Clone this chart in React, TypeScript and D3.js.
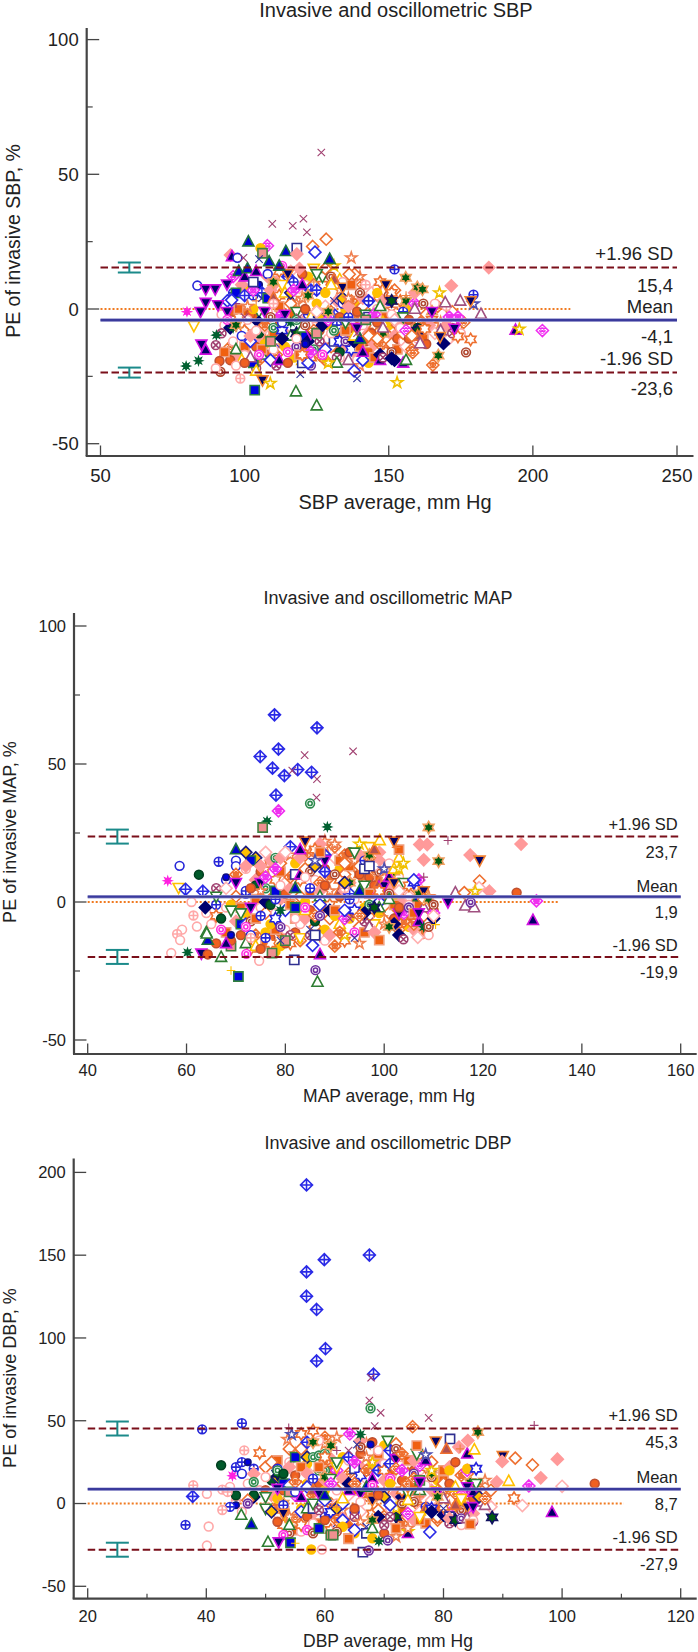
import React from 'react';
import * as d3 from 'd3';

// ---- marker style table (index = subject style) ----
const kinds = ['o','op','dp','d','s','s','^','v','v','^','^','v','^','v','h','h','h','h','*','*','*','d','dg','dg','d','d','o','op','o','o','os','o','r','r','r','r','ox','x','x','+','+','+','s','s','d','d','^','^','am','ag'];
const fills = ['#fff','#fff','#fff','#fff','#0000e0','#fff','#0000d0','#000066','#000066','#000066','#fff','#fff','#fff','#fff','#fff','#fff','#005a10','#005a10','#fff','#fff','#fff','#fff','#fff','#fff','#ff9a9a','#fff','#fff','#fff','#f06020','#005a2a','#0000e0','#ffc000','#fff','#fff','#fff','#fff','#fff','none','none','none','none','none','#f06010','#f09090','#000070','#ffc000','#b05050','#fff','#ff20e0','#006030'];
const strokes = ['#2626d8','#2626d8','#2a2ae6','#2a2ae6','#2f7f3f','#303090','#1f6f3f','#d010e0','#f08030','#d010e0','#2e7d32','#2e7d32','#ffc000','#ffc000','#ee7030','#2222dd','#f0a060','#101060','#f0c000','#f08050','#5050b0','#ee7030','#ee7030','#f030f0','#ff9a9a','#ffb0b0','#ffa8a8','#ffa8a8','#c05030','#004020','#101080','#ffc000','#2e8b4e','#ff30e0','#b04830','#7030a0','#a04070','#3030a0','#a04070','#a04070','#f08040','#ffc000','#f0a080','#408040','#000070','#1a1a80','#f07030','#a05080','#ff20e0','#006030'];

// ---- SBP panel ----
const sbpTicksX = [50, 100, 150, 200, 250];
const sbpTicksY = [-50, 0, 50, 100];
const sbpMinorY = [-25, 25, 75];
const sbpLimits = [15.4, -4.1, -23.6];
const sbpExtra = [
[26,92,-2],[22,95,-14],[28,96,-1],[42,100,-14],[24,97,-17],[26,100,-17],[31,101,7],[14,100,-8],[21,102,-6],[28,104,-14],[24,106,-11],[42,103,-3],[31,107,-13],[22,105,-19],[19,108,-9],[28,108,-17],[26,108,-1],[24,108,12],[42,110,-9],[22,111,-17],[28,112,-6],[21,113,-1],[24,114,-9],[31,117,-18],[14,112,5],[26,117,-15],[42,117,-2],[25,119,8],[22,119,-11],[28,120,-15],[24,121,-4],[31,122,12],[19,118,2],[42,122,-17],[14,123,-18],[26,121,9],[21,126,0],[28,126,-8],[24,127,-13],[42,128,-1],[22,126,-17],[31,129,-6],[14,127,9],[26,129,-11],[25,128,1],[21,130,-1],[28,131,-14],[42,132,-10],[24,134,-14],[19,133,7],[22,134,-5],[31,135,-1],[26,133,-18],[14,136,-12],[21,136,-3],[28,137,-7],[42,134,-4],[24,138,-16],[22,139,-3],[31,138,2],[26,139,-19],[14,141,-4],[21,141,1],[28,142,-12],[24,143,-9],[19,140,-21],[42,143,-16],[25,144,6],[22,141,9],[31,143,-20],[14,145,-6],[28,144,-9],[26,146,0],[24,145,-13],[21,147,4],[22,149,-9],[42,149,-3],[28,150,-13],[14,149,-16],[31,150,-6],[26,149,-12],[19,151,0],[24,152,-10],[21,151,-13],[28,153,-11],[22,153,-6],[42,153,-15],[26,155,-12],[14,154,3],[25,156,-14],[21,155,-9],[28,157,-11],[24,154,-3],[31,156,0],[19,157,-6],[22,161,-5],[26,160,-11],[42,162,-11],[21,163,-2],[28,163,-13],[14,165,-4],[24,164,-6],[25,166,-9],[22,167,1],[19,168,-5],[26,166,2],[21,172,-1],[28,172,-7],[14,174,-7],[22,176,-5],[25,171,-11],[26,175,-9],[12,120,-19],[18,131,16],[13,124,15],[11,127,12],[12,133,11],[21,128,15],[26,134,10],[28,120,13],[14,112,14],[33,113,16],[24,111,10],[25,116,14],[21,124,9],[19,140,12],[26,146,8],[14,147,10],[24,141,4],[42,148,-8],[21,152,7],[25,158,3]
];
const sbpPoints = [
[26,93,-6],[36,92,-9],[3,94,3],[44,95,-7],[1,96,6],[23,96,12],[24,99,9],[7,94,-1],[26,96,-12],[10,97,-15],[33,94,-4],[14,98,-3],[42,98,0],[0,99,-10],[49,96,-7],[16,97,-6],[12,99,-19],[28,95,-19],[26,97,-21],[42,93,-16],[6,98,14],[39,97,2],[4,97,6],[2,100,5],[9,100,12],
[42,101,-1],[28,102,-2],[3,102,-12],[36,104,-22],[4,103,-20],[1,103,5],[11,105,-1],[29,105,-9],[40,104,3],[30,105,9],[2,106,6],[23,103,7],[26,101,-4],[10,106,-17],[42,106,-15],[24,102,-10],[33,105,-17],[31,103,0],[7,107,-1],[5,103,10],[25,107,-7],[6,101,15],[9,104,14],[47,102,-18],[19,101,1],[37,106,4],[12,104,-23],[0,108,13],[4,108,4],[44,105,-5],[22,107,-6],[28,100,-20],[26,104,-8],[38,100,-3],
[3,112,-12],[32,110,-7],[2,115,12],[42,112,1],[24,109,7],[23,112,-3],[46,110,4],[26,110,-15],[12,114,6],[3,109,-19],[36,111,-21],[9,112,-19],[7,114,-2],[43,109,-12],[15,113,-8],[30,116,3],[31,114,-14],[28,115,-20],[21,116,2],[11,118,-1],[40,112,-13],[13,113,9],[10,116,-10],[8,115,13],[0,113,-5],[34,109,-3],[1,117,10],[49,116,-5],[16,110,10],[17,118,-9],[44,113,-11],[33,115,-16],[27,110,2],[45,116,6],[6,112,16],[23,117,7],[35,118,-14],
[19,120,4],[1,122,-2],[4,121,-10],[44,122,-12],[32,124,-15],[5,120,-20],[35,123,-21],[3,122,-20],[23,123,-16],[24,119,15],[28,121,0],[12,123,-3],[9,120,9],[2,123,7],[2,125,7],[42,119,-17],[31,125,2],[30,121,-13],[32,118,-4],[10,120,-7],[7,123,-9],[27,125,-5],[11,125,13],[22,124,-8],[36,126,-12],[38,119,-3],[26,118,-11],[16,122,5],[45,126,-3],[40,124,10],[34,121,-6],[25,125,-1],[43,125,-9],[14,120,-17],
[31,128,6],[21,130,-14],[3,128,-15],[5,131,-12],[15,133,-12],[44,127,-6],[34,130,12],[46,131,11],[12,130,9],[22,128,-19],[29,133,-16],[2,131,-2],[36,132,-18],[23,129,-4],[24,132,3],[28,133,-3],[26,130,-9],[16,129,-1],[1,132,-6],[42,135,-8],[0,134,2],[47,136,-19],[10,132,-20],[11,135,-5],[45,134,4],[37,131,3],[18,129,-20],[33,127,-17],[32,131,-8],[8,134,8],[35,135,-12],
[15,137,-15],[3,138,-23],[3,141,-19],[1,136,-3],[42,140,-14],[44,138,-12],[22,137,3],[24,136,1],[28,139,-1],[26,141,-6],[12,138,-10],[19,136,4],[34,140,6],[42,137,9],[27,142,9],[9,141,-16],[6,140,-11],[7,139,-7],[21,143,-10],[11,142,-2],[38,139,-9],[5,143,-3],[2,143,3],[1,143,3],[31,146,6],[23,145,-2],[43,142,-4],
[42,145,-18],[16,148,-9],[22,147,-13],[1,150,3],[44,147,-17],[8,149,9],[12,148,-5],[26,151,-2],[28,146,-5],[24,148,3],[9,147,-19],[34,150,5],[36,148,-18],[47,148,-7],[21,146,-11],[1,155,-1],[25,152,-4],[14,151,6],[17,151,3],[10,147,1],[11,155,-3],
[44,152,-19],[34,151,-16],[9,155,-20],[10,156,-19],[26,154,-7],[16,156,3],[23,159,2],[24,159,6],[22,158,-15],[14,162,-7],[29,160,-7],[44,160,-8],[23,156,-8],[17,160,-8],[46,160,-10],[28,157,-4],[34,162,2],[47,159,0],[40,156,5],[21,158,-10],[16,165,-1],[7,165,-1],[23,171,-3],[24,170,-6],[23,174,-3],[47,168,-8],[27,170,1],[36,172,-9],
[38,126.6,58.1],[38,109.6,31.6],[38,116.7,30.9],[38,120.4,33.5],[38,121.6,28.5],[21,128.3,25.9],[6,101.3,25],[23,107.9,23.5],[31,105.5,22.6],[6,114.3,21.4],[5,118.1,22.6],[21,123.6,23.2],[3,124.4,21.1],[43,106.2,20.7],[24,95.1,20],[9,95.6,19.5],[0,97.5,19],[38,99.6,19],[37,105,18.5],[19,137,19],[6,129.5,18.5],[6,108.5,17.6],[24,118.1,20.4],[24,184.7,15.4],[1,152,14.7],[16,155.9,11.6],[21,138.1,12.9],[21,136.3,12.9],[16,159.9,8],[16,161.7,7.3],[24,171.7,8.6],[18,167.6,6],[1,179.4,5.3],[20,179.4,1.9],[8,178.4,3],[47,174.8,3],[47,169.6,2.4],[47,182,-1.9],[48,80,-1],[13,82.4,-6.2],[0,83.6,8.7],[7,86.5,7.4],[7,89.8,7.4],[7,93.9,9.2],[7,86.5,2.4],[7,84.7,-1],[7,90.8,1.5],[3,95.5,3.3],[9,194,-7.8],[18,195.3,-7.5],[23,203.3,-8],[49,79.7,-21.2],[49,84,-19.2],[49,90.2,-9.7],[7,85,-13.1],[9,86.5,-15.2],[36,90,-13.4],[28,91.3,-19.3],[34,91.6,-23.3],[26,90,-22],[27,98.5,-25.8],[4,103.5,-30.1],[8,106.2,-26.4],[18,108.9,-27.6],[10,117.8,-30.7],[10,125,-35.9],[37,119.3,-24.2],[37,139,-25.8],[18,152.9,-27.3],[22,165.3,-20.8],[22,158.3,-16.2],[34,176.8,-16.1],[16,167.2,-17.3],[14,178.4,-11.3],[14,174,-10.2],[14,162.5,-7.4],[44,169,-12.8],[44,151,-18.3],[8,167.8,-10.3],[7,172.8,-7.2],[47,160.9,-12.8]
];

// ---- MAP panel ----
const mapTicksX = [40, 60, 80, 100, 120, 140, 160];
const mapTicksY = [-50, 0, 50, 100];
const mapMinorY = [-25, 25, 75];
const mapLimits = [23.7, 1.9, -19.9];
const mapExtra = [
[26,65,-8],[28,66,-15],[42,68,-11],[24,70,-7],[21,70,2],[31,72,-4],[28,71,-12],[26,72,12],[24,74,8],[42,74,1],[22,74,-12],[14,73,-17],[28,75,11],[26,75,-2],[21,76,-4],[31,76,-11],[24,77,15],[19,76,12],[42,76,-15],[22,77,1],[28,77,-13],[14,78,8],[26,78,-4],[24,79,1],[31,79,-16],[42,79,11],[21,79,14],[28,80,3],[25,80,7],[22,79,-11],[19,81,17],[26,80,-10],[14,81,-15],[24,81,5],[31,82,14],[42,82,-6],[28,82,-11],[21,83,2],[26,83,-8],[22,83,-14],[14,83,8],[24,84,-6],[31,84,0],[42,85,3],[19,85,18],[28,85,-3],[26,86,8],[21,86,-9],[22,87,7],[14,87,-12],[24,87,4],[31,88,-10],[42,88,-2],[28,88,12],[26,88,-14],[19,88,20],[21,89,-6],[22,89,9],[14,89,-1],[24,89,-12],[25,90,16],[31,91,12],[42,91,15],[28,91,2],[26,91,-9],[21,92,10],[22,92,17],[14,92,-14],[24,93,7],[31,93,-6],[42,93,13],[28,94,-4],[26,94,1],[19,94,15],[21,95,-9],[22,96,9],[14,95,10],[24,95,17],[31,96,-2],[42,96,-11],[28,97,9],[26,97,-5],[21,97,3],[22,98,11],[14,98,-3],[24,99,15],[31,99,-4],[42,99,8],[28,100,1],[25,100,4],[19,100,-8],[22,100,7],[21,101,-4],[14,101,11],[24,101,5],[31,102,2],[42,102,-1],[28,102,-6],[26,103,9],[22,103,-10],[14,103,-2],[24,104,1],[21,105,3],[31,105,-9],[28,105,-6],[25,105,2],[22,106,-1],[42,107,-1],[26,107,5],[14,107,-5],[21,108,-5],[19,109,2],[28,110,-3],[24,106,-10],[22,108,-11],[26,109,-12],[12,103,16],[13,97,20],[18,95,21],[19,88,22],[21,92,14],[25,76,18],[24,87,21],[22,84,17],[14,86,19],[26,101,14],[28,93,18],[31,85,12],[42,103,19],[24,99,18],[22,90,-16],[19,95,-15],[31,78,-18]
];
const mapPoints = [
[26,64,-4],[36,66,5],[0,68,8],[1,66,-1],[11,66,2],[14,66,-5],[30,68,9],[10,64,-11],[33,67,-10],[26,68,-2],[0,70,15],[0,70,13],[0,72,3],[1,72,4],[29,67,-6],[22,70,10],[7,70,7],[25,68,5],[31,69,-1],[42,71,-2],[4,71,-8],[11,69,-3],[11,71,-4],[3,72,-8],[43,69,-16],[28,69,-14],[9,68,-15],[30,69,-12],
[45,74,16],[4,73,15],[24,72,13],[24,75,13],[7,73,-2],[29,74,6],[6,70,19],[45,72,18],[34,73,-7],[42,74,-6],[1,75,-5],[0,73,-12],[10,72,-15],[33,72,-9],[32,76,5],[7,75,7],[23,76,9],[19,75,4],[44,76,0],[27,73,-13],[12,74,-16],[42,78,-10],[31,77,-8],[15,78,-6],[4,78,4],[29,77,-1],[28,73,5],[14,77,-15],[1,76,-13],[28,75,-17],
[32,78,16],[24,79,16],[22,81,9],[26,79,6],[1,78,1],[5,82,10],[3,80,-3],[35,79,-9],[36,81,-12],[42,81,-1],[49,79,-3],[40,81,1],[2,81,20],[6,82,5],[4,82,-2],[23,78,12],[28,80,-15],[43,80,-14],[26,82,-6],[37,79,-14],[25,80,18],[9,83,10],[12,84,-3],[13,83,-13],[8,84,22],
[21,84,12],[34,85,11],[26,84,9],[1,85,5],[45,86,13],[2,88,17],[2,88,11],[10,87,2],[5,86,-12],[29,86,-7],[22,86,-5],[36,85,-12],[37,85,-10],[3,87,-1],[7,88,15],[42,87,18],[33,84,-2],[19,89,4],[35,87,-5],[24,83,16],[20,86,15],[28,88,6],[44,89,-3],[9,83,19],
[22,90,20],[19,90,21],[14,91,8],[34,90,10],[46,91,4],[12,91,-8],[18,92,-12],[31,90,-5],[23,92,-6],[24,92,4],[1,93,1],[16,93,7],[11,94,18],[2,93,3],[33,94,-11],[37,94,-13],[27,92,5],[42,90,-3],[38,93,-6],[3,92,-3],[22,91,-11],[15,94,-3],[6,95,4],[28,95,10],[36,96,-7],[45,92,7],[21,95,13],
[1,96,15],[22,97,16],[16,97,17],[46,98,19],[11,96,6],[32,97,-1],[44,96,-4],[28,98,6],[46,99,7],[34,99,11],[5,96,12],[42,97,3],[7,100,6],[3,99,0],[10,99,-2],[22,95,-5],[26,98,13],[23,99,3],[13,98,-8],[47,97,-9],[17,98,-2],[38,97,-7],[40,100,-5],[24,98,-11],[14,99,4],[19,100,9],
[20,100,12],[5,97,13],[16,102,11],[9,101,9],[12,102,12],[18,103,12],[8,102,7],[11,104,7],[25,103,4],[34,101,3],[22,104,-7],[23,104,-4],[44,102,-8],[44,103,-12],[16,101,-9],[10,101,1],[7,103,-4],[28,103,-2],[26,105,-1],[35,105,-2],[42,106,-4],[22,106,-8],[9,107,-7],[49,108,-9],[14,105,6],[23,107,8],[15,106,7],[3,106,8],[6,107,2],[16,107,3],[8,108,4],[47,108,-2],[34,109,-9],[23,110,-4],[44,110,-6],[7,107,-4],[21,108,1],[16,109,1],[34,110,-1],[25,110,-5],[39,108,9],
[2,77.8,67.8],[2,86.4,63.1],[2,74.9,52.7],[2,78.6,55.4],[2,77.4,48.5],[2,79.8,45.8],[2,82.5,48],[2,85.3,47],[2,78.1,38.7],[38,83.9,53.2],[38,93.7,54.6],[38,86.4,44.5],[38,86.3,37.8],[38,81.4,47.6],[32,85,35.7],[23,78.6,33],[49,76.3,29.3],[49,88.5,27.2],[43,75.4,27],[16,109,27],[39,112.9,22.3],[24,107.2,20.8],[24,108.7,20.8],[24,108,15.3],[24,117.4,17],[24,127.7,21],[8,119.3,15.1],[8,102,22],[16,111,14.8],[12,99.1,22.3],[40,102.4,19.8],[18,103.9,14],[0,58.6,13.1],[29,62.5,9.9],[48,56.2,7.7],[13,58.4,5.2],[2,59.8,4.6],[2,63.3,3.9],[1,66.5,14.6],[21,119.3,7.6],[25,119.2,5.2],[18,118.4,3.9],[24,121.3,3.9],[28,126.8,3.4],[23,130.8,0.4],[9,130.1,-6.6],[47,114.4,3.4],[47,116.4,-1.4],[47,118.2,-2],[35,117.5,-0.1],[21,116.2,3.4],[7,112.9,0],[41,110.4,-8.2],[25,106.8,-12.8],[36,103.9,-13.5],[42,99,-13.8],[26,61,0],[27,61.4,-4.9],[26,62.1,-8.9],[26,59.1,-10],[27,58.1,-11.6],[26,58.7,-13.8],[26,56.9,-18.5],[49,60.2,-18.3],[7,63,-18.6],[28,64.3,-19],[10,67,-20],[44,63.8,-2],[6,64.3,-13.8],[10,64.1,-11.5],[5,81.8,-21],[4,70.5,-27],[41,69,-24.8],[35,86.1,-24.7],[10,86.5,-29],[9,87,-19],[26,74.7,-21.3],[43,77.3,-18.5],[33,72.1,-18.8],[3,85.5,-15.7],[5,86,-12]
];

// ---- DBP panel ----
const dbpTicksX = [20, 40, 60, 80, 100, 120];
const dbpMinorX = [30, 50, 70, 90, 110];
const dbpTicksY = [-50, 0, 50, 100, 150, 200];
const dbpLimits = [45.3, 8.7, -27.9];
const dbpExtra = [
[26,49,8],[27,50,-2],[21,50,22],[28,50,8],[24,51,5],[26,52,-6],[22,52,-2],[31,52,3],[42,52,26],[14,53,-13],[28,53,8],[26,54,25],[21,54,33],[24,54,22],[31,54,-10],[19,55,30],[42,55,-16],[22,55,-8],[28,55,17],[26,56,-17],[21,56,10],[31,57,12],[24,58,-6],[14,58,11],[25,58,23],[22,58,5],[28,59,12],[42,59,-12],[26,59,2],[19,60,36],[31,60,8],[21,60,-4],[24,61,27],[14,61,-16],[22,61,0],[28,61,20],[26,62,8],[42,62,-8],[31,63,28],[21,63,12],[19,63,-4],[24,63,-9],[22,64,18],[28,64,-12],[26,64,26],[14,65,12],[42,65,8],[31,65,-18],[21,65,-10],[24,66,22],[25,66,-5],[28,66,30],[22,67,5],[26,67,15],[19,67,36],[14,68,-6],[31,68,24],[42,68,4],[21,69,-4],[24,69,26],[28,70,-18],[22,70,-8],[26,70,24],[31,70,35],[14,70,6],[19,71,18],[42,71,20],[25,72,-12],[24,72,6],[21,72,-4],[28,73,14],[22,73,-12],[26,73,28],[31,73,1],[14,74,18],[42,74,26],[19,75,4],[24,75,-10],[21,75,14],[28,75,20],[22,76,-2],[26,76,20],[31,76,7],[14,77,22],[42,77,-12],[25,78,2],[24,78,8],[21,78,25],[28,79,-3],[22,79,-10],[26,79,16],[31,79,14],[14,80,9],[42,80,20],[19,81,-2],[24,81,22],[21,82,-8],[28,82,25],[22,83,17],[26,83,-4],[31,83,2],[14,84,6],[42,84,-7],[24,85,-6],[21,84,18],[28,85,3],[22,86,9],[26,87,6],[19,87,14],[25,88,-2],[21,88,8],[24,89,13],[26,62,-14],[19,72,-20],[18,74,-17],[28,68,37],[21,72,36],[19,62,40],[22,60,40],[24,66,38],[14,56,42],[26,59,38],[31,57,24],[23,62,20],[42,69,30],[21,76,30]
];
const dbpPoints = [
[26,44,10],[27,45,2],[30,45,-1],[29,45,5],[1,44,-2],[0,46,18],[1,45,22],[1,46,25],[1,48,21],[44,48,4],[26,47,12],[29,48,5],[30,47,25],[24,48,18],[32,48,13],[21,47,2],[26,46,-5],[35,47,0],[11,50,4],[11,50,-3],
[29,51,14],[26,50,16],[21,51,25],[45,52,16],[4,53,12],[45,51,-5],[1,52,21],[17,52,18],[7,52,9],[16,53,0],[28,52,-11],[34,54,-18],[33,53,-19],[23,55,5],[42,53,-3],[32,52,20],[3,54,11],[1,53,-1],[43,54,7],[19,54,-8],[10,54,-13],[8,53,-6],
[4,55,28],[29,53,18],[21,56,33],[45,57,28],[32,58,28],[42,56,22],[22,55,13],[24,57,18],[0,55,7],[2,57,37],[16,58,37],[3,57,10],[9,56,4],[31,56,-3],[3,56,-5],[28,57,-8],[10,57,-3],[14,56,-13],[26,58,-12],[33,57,-16],[34,58,-18],[5,58,-3],[1,58,15],[11,58,0],
[32,59,29],[32,60,30],[32,60,20],[32,59,20],[22,60,25],[42,59,22],[24,60,14],[46,58,8],[7,59,6],[16,60,16],[3,60,2],[1,60,-8],[4,59,-15],[28,60,-10],[11,61,15],[15,61,-5],[43,61,-19],[26,62,0],[21,62,-2],[6,60,5],[45,62,-3],[37,62,-12],[13,62,22],[23,61,12],[22,62,-10],[36,59,-4],[14,60,28],
[16,61,35],[39,62,32],[11,62,25],[24,63,15],[25,64,5],[9,64,8],[3,63,0],[3,63,-10],[1,65,-5],[31,63,-14],[34,62,-17],[42,64,-21],[40,62,-2],[12,63,3],[5,65,21],[15,66,17],[2,64,28],[38,64,32],[7,66,6],[44,64,12],[36,65,-8],[26,66,1],[28,65,-3],[22,65,12],[23,65,25],[19,66,-11],
[3,65,-16],[30,67,19],[34,66,34],[5,67,-18],[22,67,20],[18,68,25],[19,67,28],[31,68,-21],[21,68,10],[8,68,2],[44,69,-8],[9,68,15],[6,67,10],[1,69,6],[2,69,20],[36,70,-13],[37,67,-14],[26,69,32],[16,68,-10],[10,68,-15],[45,70,4],[14,70,20],[24,70,14],[28,69,5],[33,68,11],
[2,71,32],[2,71,24],[34,72,33],[34,72,28],[7,72,27],[22,72,21],[22,73,30],[16,71,14],[44,73,4],[14,73,8],[42,73,-5],[17,72,-8],[11,74,6],[33,71,15],[26,71,-3],[8,74,10],[42,72,-15],[18,72,-3],[31,71,12],[3,71,-1],[36,71,-8],[34,73,0],[9,74,-18],[23,74,-6],[19,74,-15],[22,74,12],[23,73,20],
[23,76,23],[42,75,12],[24,76,5],[35,75,18],[10,76,8],[22,75,15],[26,77,11],[25,76,-5],[40,76,4],[34,75,1],[43,76,14],[42,76,-10],[7,76,13],[1,77,-2],[46,77,-3],[24,75,26],[12,74,2],[13,76,-8],[41,77,-5],[21,79,-8],[15,78,-3],[34,78,16],[44,78,-5],[16,78,18],[18,78,20],[9,77,26],
[42,80,14],[18,79,9],[22,80,5],[7,79,7],[44,80,-7],[23,81,-6],[14,80,-2],[47,80,3],[31,81,20],[16,79,4],[21,80,12],[36,81,-12],[28,81,12],[22,82,6],[5,81,-8],[37,80,-3],[26,83,-13],[23,84,-3],[34,83,-4],[41,82,-2],[12,82,10],[24,81,-9],[46,82,-1],[9,85,7],[33,83,5],[8,84,-2],[13,83,3],
[23,84,20],[31,84,21],[9,84,30],[15,85.5,21],[16,84.5,13],[11,85.5,12],[47,86,1],[47,87,-1],[7,85,-2],[36,85,-11],[17,82,-10],[35,83,-9],[47,84,-9],[45,86,4],[7,84,10],[26,85,-10],[22,87,3],
[2,56.9,192.4],[2,56.9,139.9],[2,59.9,147.3],[2,67.5,150.1],[2,56.9,125.2],[2,58.6,117.2],[2,60.1,93.5],[2,58.6,86.1],[2,68.2,78.1],[38,67.8,76],[38,67.5,62.2],[38,69.4,54.8],[38,77.5,51.7],[38,68.4,46.8],[32,67.7,57.5],[39,95.3,47.2],[22,74.8,46.4],[16,85.8,43.1],[1,46,48.5],[1,39.3,44.8],[29,42.5,23.1],[2,37.7,4.3],[1,36.5,-12.9],[26,40.4,-13.9],[26,40.1,-25.4],[26,40.1,5.9],[27,37.8,11],[27,42.7,8.4],[27,42.7,-3.9],[27,43.6,7],[48,44.4,16.8],[14,49,30.5],[27,46.4,32.1],[19,53.7,38.7],[20,54.4,41.7],[39,53.9,45.8],[10,45.9,-7],[6,47.6,-12.5],[10,50.4,-23.3],[7,52.2,-23.3],[4,54.2,-23.7],[41,55,-24],[31,57.7,-27.8],[26,59.5,-27.8],[43,61.4,-19],[42,64,-21.3],[5,66.4,-29.4],[35,67.4,-28.4],[35,70.6,-22.3],[49,69.1,-22.7],[3,77.7,-17.2],[42,84.5,-12.5],[17,88.2,-8.4],[9,98.3,-5.3],[28,105.5,12],[25,100,10.4],[24,99.2,26.8],[21,95,23.3],[21,92.1,27.4],[8,90,28.8],[24,89.9,25.4],[24,96.4,15.5],[23,94.4,10.6],[14,91.9,3.3],[25,93.3,-1.2],[12,91,13.5],[5,81.1,39],[8,78.7,37.6],[46,80.5,32.9],[24,82.6,34.1],[24,84.1,38],[12,85.2,32.5],[40,82.8,33],[11,70.6,38],[11,75.5,30],[20,77,29.4],[42,75.5,35],[30,67.7,35.6],[37,65.4,35.6],[23,64.2,42],[49,66,41.7],[14,58,44]
];

function ngon(pts) {
  const p = d3.path();
  pts.forEach((q, i) => (i ? p.lineTo(q[0], q[1]) : p.moveTo(q[0], q[1])));
  p.closePath();
  return p.toString();
}
function seg(p, a, b, c, e) { p.moveTo(a, b); p.lineTo(c, e); }
function markerPath(k) {
  const p = d3.path();
  if (k === 'o' || k === 'op' || k === 'ox' || k === 'r') {
    p.arc(0, 0, 4.4, 0, Math.PI * 2);
    if (k === 'op') { seg(p, -4.4, 0, 4.4, 0); seg(p, 0, -4.4, 0, 4.4); }
    if (k === 'ox') { seg(p, -3, -3, 3, 3); seg(p, -3, 3, 3, -3); }
    if (k === 'r') { p.moveTo(2.1, 0); p.arc(0, 0, 2.1, 0, Math.PI * 2); }
    return p.toString();
  }
  if (k === 'os') { p.arc(0, 0, 3.2, 0, Math.PI * 2); return p.toString(); }
  if (k === 's') return ngon([[-4.6, -4.6], [4.6, -4.6], [4.6, 4.6], [-4.6, 4.6]]);
  if (k === '^') return ngon([[0, -6], [5.5, 4.2], [-5.5, 4.2]]);
  if (k === 'v') return ngon([[0, 6], [5.5, -4.2], [-5.5, -4.2]]);
  if (k === 'd' || k === 'dp' || k === 'dg') {
    const base = ngon([[0, -6], [6, 0], [0, 6], [-6, 0]]);
    if (k === 'd') return base;
    const q = d3.path();
    if (k === 'dp') { seg(q, -6, 0, 6, 0); seg(q, 0, -6, 0, 6); }
    else { seg(q, -3, -3, 3, 3); seg(q, -3, 3, 3, -3); seg(q, -3, 0, 0, 3); seg(q, 0, -3, 3, 0); seg(q, 0, -3, -3, 0); seg(q, 3, 0, 0, 3); }
    return base + q.toString();
  }
  if (k === 'h') {
    const pts = d3.range(12).map(i => {
      const r = i % 2 ? 3.6 : 6.2, a = (i * Math.PI) / 6;
      return [r * Math.sin(a), -r * Math.cos(a)];
    });
    return ngon(pts);
  }
  if (k === '*') return d3.symbol(d3.symbolStar, 38)();
  if (k === 'am' || k === 'ag') {
    const pts = d3.range(16).map(i => {
      const r = i % 2 ? 2.1 : 4.4, a = (i * Math.PI) / 8;
      return [r * Math.sin(a), -r * Math.cos(a)];
    });
    return ngon(pts);
  }
  if (k === 'x') { seg(p, -3.7, -3.7, 3.7, 3.7); seg(p, -3.7, 3.7, 3.7, -3.7); return p.toString(); }
  seg(p, -4.3, 0, 4.3, 0); seg(p, 0, -4.3, 0, 4.3);
  return p.toString();
}

const AXIS = '#444';
const TXT = '#222';
const FONT = '"Liberation Sans", Arial, sans-serif';

function Panel({ cfg, points, ticksX, minorX, ticksY, minorY, limits }) {
  const x = d3.scaleLinear().domain(cfg.xd).range(cfg.xr);
  const y = d3.scaleLinear().domain(cfg.yd).range(cfg.yr);
  const fmt = (v) => String(v).replace('.', ',');
  const xl = cfg.xr[0], xe = cfg.xr[1];
  const labels = [
    ['+1.96 SD', cfg.lab[0]], [fmt(limits[0]), cfg.lab[1]], ['Mean', cfg.lab[2]],
    [fmt(limits[1]), cfg.lab[3]], ['-1.96 SD', cfg.lab[4]], [fmt(limits[2]), cfg.lab[5]],
  ];
  return (
    <g fontFamily={FONT} fill={TXT}>
      <text x={cfg.titleX} y={cfg.titleY} fontSize={cfg.titleFs} textAnchor="middle">{cfg.title}</text>
      <line x1={cfg.ax} x2={cfg.ax} y1={cfg.top} y2={cfg.bot} stroke={AXIS} strokeWidth={2.2} />
      <line x1={cfg.ax - 1} x2={cfg.right} y1={cfg.bot} y2={cfg.bot} stroke={AXIS} strokeWidth={2.2} />
      {ticksY.map(t => (
        <g key={t}>
          <line x1={cfg.ax} x2={cfg.ax + 12.5} y1={y(t)} y2={y(t)} stroke={AXIS} strokeWidth={1.3} />
          <text x={cfg.ax - 8} y={y(t) + cfg.fs * 0.36} fontSize={cfg.fs} textAnchor="end">{t}</text>
        </g>
      ))}
      {minorY.map(t => <line key={t} x1={cfg.ax} x2={cfg.ax + 6} y1={y(t)} y2={y(t)} stroke={AXIS} strokeWidth={1.2} />)}
      {ticksX.map(t => (
        <g key={t}>
          <line x1={x(t)} x2={x(t)} y1={cfg.bot} y2={cfg.bot - 10.5} stroke={AXIS} strokeWidth={1.3} />
          <text x={x(t)} y={cfg.xTickY} fontSize={cfg.fs} textAnchor="middle">{t}</text>
        </g>
      ))}
      {minorX.map(t => <line key={t} x1={x(t)} x2={x(t)} y1={cfg.bot} y2={cfg.bot - 5} stroke={AXIS} strokeWidth={1.2} />)}
      <text x={cfg.xLabX} y={cfg.xLabY} fontSize={cfg.labFs} textAnchor="middle">{cfg.xLabel}</text>
      <text transform={`translate(${cfg.yLabX},${cfg.yLabY}) rotate(-90)`} fontSize={cfg.yLabFs} textAnchor="middle">{cfg.yLabel}</text>

      <line x1={xl} x2={x(cfg.dotEnd)} y1={y(0)} y2={y(0)} stroke="#f07a20" strokeWidth={2} strokeDasharray="2 2" />
      {points.map((d, i) => {
        const s = d[0];
        const k = kinds[s];
        const thin = k === 'x' || k === '+' || k === 'am' || k === 'ag';
        return (
          <path key={i} d={markerPath(k)} transform={`translate(${x(d[1])},${y(d[2])})`}
            fill={fills[s]} stroke={strokes[s]} strokeWidth={thin ? 1.1 : 1.6} />
        );
      })}
      <line x1={xl} x2={xe} y1={y(limits[1])} y2={y(limits[1])} stroke="#9a9ad0" strokeWidth={3.4} />
      <line x1={xl} x2={xe} y1={y(limits[1])} y2={y(limits[1])} stroke="#3a3a9c" strokeWidth={2.2} />
      {[limits[0], limits[2]].map(v => (
        <line key={v} x1={xl} x2={xe} y1={y(v)} y2={y(v)} stroke="#7a0f1a" strokeWidth={2} strokeDasharray="7.5 3.5" />
      ))}
      {[limits[0], limits[2]].map(v => (
        <g key={v} stroke="#1b8a8a" strokeWidth={2}>
          <line x1={x(cfg.ciX) - 11.5} x2={x(cfg.ciX) + 11.5} y1={y(v) - cfg.ci} y2={y(v) - cfg.ci} />
          <line x1={x(cfg.ciX) - 11.5} x2={x(cfg.ciX) + 11.5} y1={y(v) + cfg.ci} y2={y(v) + cfg.ci} />
          <line x1={x(cfg.ciX)} x2={x(cfg.ciX)} y1={y(v) - cfg.ci} y2={y(v) + cfg.ci} />
        </g>
      ))}
      {labels.map(([t, yy]) => (
        <text key={t} x={cfg.labX} y={yy} fontSize={cfg.fs} textAnchor="end">{t}</text>
      ))}
    </g>
  );
}

const cfgSbp = {
  title: 'Invasive and oscillometric SBP', titleX: 396, titleY: 16.5, titleFs: 20, xd: [50, 250], xr: [100.5, 677], yd: [-50, 100], yr: [443.7, 39.6],
  ax: 86.7, top: 28, bot: 456, right: 693.5, fs: 18.5, xTickY: 482, xLabel: 'SBP average, mm Hg', xLabX: 395, xLabY: 509, labFs: 20,
  yLabel: 'PE of invasive SBP, %', yLabX: 20, yLabY: 241, yLabFs: 19.5, dotEnd: 213, ciX: 60, ci: 5,
  labX: 673, lab: [260, 291.5, 313, 343, 365, 395],
};
const cfgMap = {
  title: 'Invasive and oscillometric MAP', titleX: 388, titleY: 604, titleFs: 18, xd: [40, 160], xr: [87.7, 680.7], yd: [-50, 100], yr: [1040, 626],
  ax: 74, top: 613, bot: 1054, right: 696.7, fs: 16.5, xTickY: 1076, xLabel: 'MAP average, mm Hg', xLabX: 389, xLabY: 1102, labFs: 17.5,
  yLabel: 'PE of invasive MAP, %', yLabX: 15.5, yLabY: 832, yLabFs: 18, dotEnd: 135.5, ciX: 46, ci: 7,
  labX: 677.7, lab: [830, 858, 891.7, 918, 951, 978],
};
const cfgDbp = {
  title: 'Invasive and oscillometric DBP', titleX: 388, titleY: 1149, titleFs: 18, xd: [20, 120], xr: [87.7, 680.7], yd: [-50, 200], yr: [1586.3, 1172.4],
  ax: 73.7, top: 1158.4, bot: 1598.7, right: 696.7, fs: 16.5, xTickY: 1622, xLabel: 'DBP average, mm Hg', xLabX: 388, xLabY: 1647, labFs: 17.5,
  yLabel: 'PE of invasive DBP, %', yLabX: 15.5, yLabY: 1378, yLabFs: 18, dotEnd: 110.4, ciX: 25, ci: 7,
  labX: 677.7, lab: [1421, 1448, 1483, 1510, 1542.7, 1570],
};

export default function App() {
  return (
    <svg width={698} height={1652} style={{ position: 'absolute', left: 0, top: 0, background: '#fff' }}>
      <Panel cfg={cfgSbp} points={[...sbpExtra, ...sbpPoints]} ticksX={sbpTicksX} minorX={[]} ticksY={sbpTicksY} minorY={sbpMinorY} limits={sbpLimits} />
      <Panel cfg={cfgMap} points={[...mapExtra, ...mapPoints]} ticksX={mapTicksX} minorX={[]} ticksY={mapTicksY} minorY={mapMinorY} limits={mapLimits} />
      <Panel cfg={cfgDbp} points={[...dbpExtra, ...dbpPoints]} ticksX={dbpTicksX} minorX={dbpMinorX} ticksY={dbpTicksY} minorY={[]} limits={dbpLimits} />
    </svg>
  );
}
